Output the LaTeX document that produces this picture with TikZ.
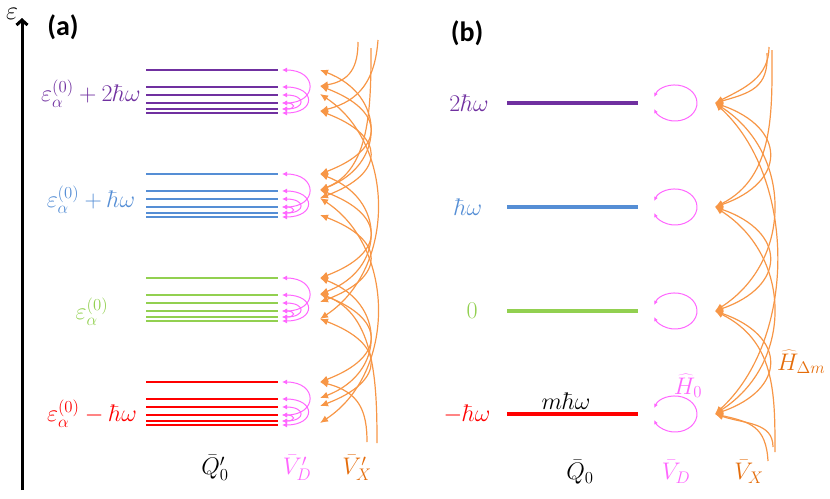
\documentclass[tikz,border=0pt]{standalone}
\usepackage{fontspec}
\usepackage{fix-cm}
\usetikzlibrary{arrows.meta}
\newfontfamily\panelfont{Carlito}
\definecolor{lvpurple}{RGB}{112,48,160}
\definecolor{lvblue}{RGB}{85,142,213}
\definecolor{lvgreen}{RGB}{146,208,80}
\definecolor{lvred}{RGB}{255,0,0}
\definecolor{vdpink}{RGB}{255,102,255}
\definecolor{vxorange}{RGB}{247,150,70}
\definecolor{vxdark}{RGB}{228,108,10}
\begin{document}
\begin{tikzpicture}[x=1pt,y=-1pt,%
		levela/.style={line width=1.5pt},
		levelb/.style={line width=3.5pt},
		vdarc/.style={draw=vdpink,line width=1pt,{Latex[length=5pt,width=5pt]}-{Latex[length=5pt,width=5pt]}},
		vdloop/.style={draw=vdpink,line width=1pt,{Latex[length=4pt,width=4pt]}-{Latex[length=4pt,width=4pt]}},
		vxarc/.style={draw=vxorange,line width=1.2pt,{Latex[length=8pt,width=7pt]}-{Latex[length=8pt,width=7pt]}},
		vxend/.style={draw=vxorange,line width=1.2pt,{Latex[length=8pt,width=7pt]}-},
		lbl/.style={font=\fontsize{24}{28}\selectfont,inner sep=1pt},
		panel/.style={font=\panelfont\bfseries\fontsize{28}{32}\selectfont}]
		\useasboundingbox (0,0) rectangle (830,498);
		% energy axis
		\coordinate (ax0) at (22,490);
		\coordinate (ax1) at (22,18);
		\draw[line width=3pt,-{Straight Barb[length=5pt,width=11pt]}] (ax0) -- (ax1);
		\node[font=\fontsize{26}{30}\selectfont,inner sep=0pt] (eps) at (12,14) {$\varepsilon$};
		\node[panel] (pa) at (63,27) {(a)};
		\node[panel] (pb) at (467,33) {(b)};
		% (a) quasienergy levels
		\foreach \g/\yg/\col in {0/70/lvpurple,1/174/lvblue,2/278/lvgreen,3/382/lvred} {
			\foreach \k/\dy in {0/0,1/17,2/25,3/33,4/39,5/43} {
				\coordinate (qa\g\k) at (146,\yg+\dy);
				\coordinate (ea\g\k) at (278,\yg+\dy);
				\coordinate (da\g\k) at (282,\yg+\dy);
				\draw[levela,\col] (qa\g\k) -- (ea\g\k);
			}
			\foreach \k/\dy in {0/0,1/16,2/24,3/41}
				\coordinate (xa\g\k) at (320,\yg+\dy);
			\foreach \i/\j/\c in {0/3/36,1/5/34,2/4/24,3/4/14}
				\draw[vdarc] (da\g\i) .. controls +(\c,0) and +(\c,0) .. (da\g\j);
		}
		\node[lbl,text=lvpurple] (la0) at (91,94) {$\varepsilon_\alpha^{(0)}+2\hbar\omega$};
		\node[lbl,text=lvblue] (la1) at (91,200) {$\varepsilon_\alpha^{(0)}+\hbar\omega$};
		\node[lbl,text=lvgreen] (la2) at (92,312) {$\varepsilon_\alpha^{(0)}$};
		\node[lbl,text=lvred] (la3) at (92,414) {$\varepsilon_\alpha^{(0)}-\hbar\omega$};
		% (a) couplings between groups
		\foreach \g in {0,1,2} {
			\pgfmathtruncatemacro\h{\g+1}
			\foreach \i/\j in {0/1,3/2,1/0}
				\draw[vxarc] (xa\g\i) .. controls +(66,25) and +(66,-25) .. (xa\h\j);
		}
		\foreach \g in {0,1} {
			\pgfmathtruncatemacro\h{\g+2}
			\draw[vxarc] (xa\g2) .. controls +(76,50) and +(76,-50) .. (xa\h3);
		}
		\coordinate (ta1) at (358,42);
		\coordinate (ta2) at (378,40);
		\coordinate (ta3) at (371,48);
		\coordinate (ba1) at (367,442);
		\coordinate (ba2) at (377,443);
		\draw[vxend] (xa01) .. controls +(30,-5) and +(0,25) .. (ta1);
		\draw[vxend] (xa03) .. controls +(40,-10) and +(-3,40) .. (ta2);
		\draw[vxend] (xa11) .. controls +(50,-20) and +(0,60) .. (ta3);
		\draw[vxend] (xa30) .. controls +(40,10) and +(0,-30) .. (ba1);
		\draw[vxend] (xa21) .. controls +(55,20) and +(0,-60) .. (ba2);
		\node[lbl] (qa) at (215,468) {$\bar{Q}'_0$};
		\node[lbl,text=vdpink] (vda) at (297,468) {$\bar{V}'_D$};
		\node[lbl,text=vxdark] (vxa) at (357,468) {$\bar{V}'_X$};
		% (b) Floquet ladder
		\foreach \k/\y/\col in {0/103/lvpurple,1/207/lvblue,2/311/lvgreen,3/414/lvred} {
			\coordinate (qb\k) at (507,\y);
			\coordinate (eb\k) at (638,\y);
			\coordinate (lb\k) at (675,\y);
			\coordinate (xb\k) at (715,\y);
			\draw[levelb,\col] (qb\k) -- (eb\k);
			\draw[vdloop] (lb\k) ++(160:22pt and 18pt) arc[start angle=160,end angle=-160,x radius=22pt,y radius=18pt];
		}
		\node[lbl,text=lvpurple] (lb0t) at (469,103) {$2\hbar\omega$};
		\node[lbl,text=lvblue] (lb1t) at (468,207) {$\hbar\omega$};
		\node[lbl,text=lvgreen] (lb2t) at (472,311) {$0$};
		\node[lbl,text=lvred] (lb3t) at (467,414) {$-\hbar\omega$};
		\foreach \i/\j/\c/\s in {0/1/72/25,1/2/72/25,2/3/72/25,0/2/78/50,1/3/78/50,0/3/82/75}
			\draw[vxarc] (xb\i) .. controls +(\c,\s) and +(\c,-\s) .. (xb\j);
		\coordinate (tb1) at (769,47);
		\coordinate (tb2) at (772,50);
		\coordinate (tb3) at (767,53);
		\coordinate (bb1) at (773,447);
		\coordinate (bb2) at (775,452);
		\coordinate (bb3) at (768,461);
		\draw[vxend] (xb0) .. controls +(30,-15) and +(0,30) .. (tb1);
		\draw[vxend] (xb0) .. controls +(35,-10) and +(2,35) .. (tb3);
		\draw[vxend] (xb1) .. controls +(60,-30) and +(0,60) .. (tb2);
		\draw[vxend] (xb3) .. controls +(30,10) and +(0,-25) .. (bb1);
		\draw[vxend] (xb3) .. controls +(35,8) and +(-2,-35) .. (bb3);
		\draw[vxend] (xb2) .. controls +(60,30) and +(0,-60) .. (bb2);
		\node[lbl,anchor=base] (mhw) at (566,409) {$m\hbar\omega$};
		\node[lbl,text=vdpink] (h0) at (688,386) {$\widehat{H}_0$};
		\node[lbl,text=vxdark,anchor=west] (hdm) at (776,362) {$\widehat{H}_{\Delta m}$};
		\node[lbl] (qb) at (580,472) {$\bar{Q}_0$};
		\node[lbl,text=vdpink] (vdb) at (676,472) {$\bar{V}_D$};
		\node[lbl,text=vxdark] (vxb) at (749,472) {$\bar{V}_X$};
\end{tikzpicture}
\end{document}
